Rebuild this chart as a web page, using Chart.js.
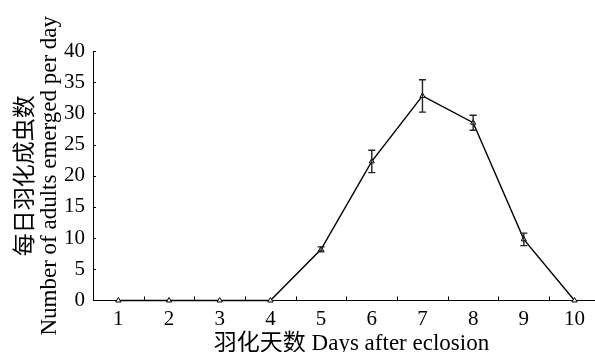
<!DOCTYPE html>
<html>
<head>
<meta charset="utf-8">
<script src="https://cdn.jsdelivr.net/npm/chart.js@4/dist/chart.umd.min.js"></script>
<style>
html,body{margin:0;padding:0;background:#fff;}
#wrap{width:595px;height:352px;}
</style>
</head>
<body>
<div id="wrap"><canvas id="c" width="595" height="352"></canvas></div>
<script>
// ---- data ----
const days = [1, 2, 3, 4, 5, 6, 7, 8, 9, 10];
const emerged = [0, 0, 0, 0, 8.2, 22.3, 32.8, 28.5, 9.8, 0];
const errors = [0, 0, 0, 0, 0.4, 1.8, 2.6, 1.2, 1.0, 0];
const xMinorTicks = [1.5, 2.5, 3.5, 4.5, 5.5, 6.5, 7.5, 8.5, 9.5];
const yTickValues = [0, 5, 10, 15, 20, 25, 30, 35, 40];
const xTitle = '羽化天数 Days after eclosion';
const yTitle = ['每日羽化成虫数', 'Number of adults emerged per day'];

const FONT = "'Liberation Serif', 'Times New Roman', 'Noto Sans CJK SC', serif";

// the x axis runs on past the right edge of the picture
const extendAxis = {
  id: 'extendAxis',
  afterLayout(chart) {
    const xs = chart.scales.x;
    xs.right = xs.left + 517;
    xs.width = xs.right - xs.left;
    xs.configure();
  }
};

const errorBars = {
  id: 'errorBars',
  afterDatasetsDraw(chart) {
    const ctx = chart.ctx, xs = chart.scales.x, ys = chart.scales.y;
    ctx.save();
    ctx.strokeStyle = '#222';
    ctx.lineWidth = 1.4;
    days.forEach((d, i) => {
      const e = errors[i];
      if (!e) return;
      const px = xs.getPixelForValue(d);
      const top = ys.getPixelForValue(emerged[i] + e);
      const bot = ys.getPixelForValue(emerged[i] - e);
      ctx.beginPath();
      ctx.moveTo(px, top); ctx.lineTo(px, bot);
      ctx.moveTo(px - 3.5, top); ctx.lineTo(px + 3.5, top);
      ctx.moveTo(px - 3.5, bot); ctx.lineTo(px + 3.5, bot);
      ctx.stroke();
    });
    ctx.restore();
  }
};

const innerTicks = {
  id: 'innerTicks',
  afterDraw(chart) {
    const ctx = chart.ctx, xs = chart.scales.x, ys = chart.scales.y;
    const area = chart.chartArea;
    ctx.save();
    ctx.strokeStyle = '#000';
    ctx.lineWidth = 1;
    ctx.beginPath();
    xMinorTicks.forEach(v => {
      const px = Math.round(xs.getPixelForValue(v)) + 0.5;
      ctx.moveTo(px, area.bottom); ctx.lineTo(px, area.bottom - 4);
    });
    yTickValues.forEach(v => {
      if (v === 0) return;
      const py = Math.round(ys.getPixelForValue(v)) + 0.5;
      ctx.moveTo(area.left, py); ctx.lineTo(area.left + 3, py);
    });
    ctx.stroke();
    ctx.restore();
  }
};

new Chart(document.getElementById('c'), {
  type: 'line',
  data: {
    datasets: [{
      data: days.map((d, i) => ({ x: d, y: emerged[i] })),
      borderColor: '#000',
      borderWidth: 1.4,
      pointStyle: 'triangle',
      pointRadius: 3,
      pointBorderWidth: 1,
      pointBackgroundColor: '#fff',
      pointBorderColor: '#000',
      tension: 0,
      fill: false,
      clip: false
    }]
  },
  options: {
    responsive: false,
    animation: false,
    layout: { padding: { left: 0, top: 51, right: 0, bottom: 0 } },
    plugins: { legend: { display: false }, tooltip: { enabled: false } },
    scales: {
      x: {
        type: 'linear',
        min: 0.5,
        max: 10.7,
        afterBuildTicks(scale) { scale.ticks = days.map(v => ({ value: v })); },
        afterFit(scale) { scale.height = 51.5; },
        grid: { display: false, drawTicks: false },
        border: { display: true, color: '#000', width: 1 },
        ticks: {
          color: '#000',
          padding: 6,
          autoSkip: false,
          maxRotation: 0,
          font: { family: FONT, size: 21 },
          callback: v => String(v)
        },
        title: {
          display: true,
          text: xTitle,
          color: '#000',
          font: { family: FONT, size: 23, lineHeight: 0.7 },
          padding: { top: 0, bottom: 0 }
        }
      },
      y: {
        min: 0,
        max: 40,
        afterBuildTicks(scale) { scale.ticks = yTickValues.map(v => ({ value: v })); },
        afterFit(scale) { scale.width = 93; },
        grid: { display: false, drawTicks: false },
        border: { display: true, color: '#000', width: 1 },
        ticks: {
          color: '#000',
          padding: 8,
          font: { family: FONT, size: 21 }
        },
        title: {
          display: true,
          text: yTitle,
          color: '#000',
          font: { family: FONT, size: 23, lineHeight: 1.05 },
          padding: { top: 14, bottom: 0 }
        }
      }
    }
  },
  plugins: [extendAxis, errorBars, innerTicks]
});
</script>
</body>
</html>
